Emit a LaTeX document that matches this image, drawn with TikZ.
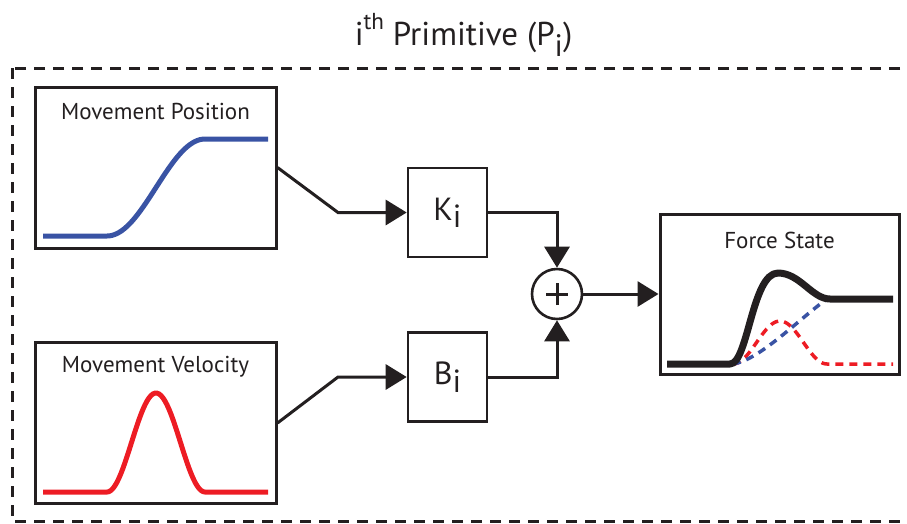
\documentclass[tikz,border=0pt]{standalone}
\usepackage{fontspec}
\setmainfont{PT Sans}
\usetikzlibrary{arrows.meta,positioning}
\definecolor{prblue}{HTML}{3953A4}
\definecolor{prred}{HTML}{ED1C24}
\definecolor{prink}{HTML}{231F20}
\newcommand{\lowtext}[2][0.23em]{\raisebox{-#1}{#2}}
\newcommand{\hightext}[1]{\raisebox{0.48em}{\scalebox{0.7}{#1}}}

\begin{document}
\begin{tikzpicture}[
  x=1pt, y=-1pt,
  panel/.style   = {rectangle, draw=prink, line width=3pt, minimum width=241pt,
                    minimum height=161pt, inner sep=0pt},
  gain/.style    = {rectangle, draw=prink, line width=2.6pt, minimum width=79pt,
                    minimum height=89pt, inner sep=0pt, text=prink,
                    font=\fontsize{32}{32}\selectfont},
  adder/.style   = {circle, draw=prink, line width=2.6pt, minimum size=50pt, inner sep=0pt},
  caption/.style = {font=\fontsize{23}{23}\selectfont, text=prink, inner sep=0pt},
  flow/.style    = {-{Triangle[length=21pt,width=25pt]}, draw=prink, line width=3pt},
  wire/.style    = {draw=prink, line width=3pt},
  trace/.style   = {line width=5pt},
  hint/.style    = {line width=3.5pt, dash pattern=on 8pt off 6pt},
  frame/.style   = {draw=prink, line width=3pt, dash pattern=on 11pt off 8pt},
]
\useasboundingbox (0,0) rectangle (907,523);
\clip (0,0) rectangle (907,523);

% outer frame and title
\draw[frame] (12,68) rectangle (915,521);
\node[font=\fontsize{33}{33}\selectfont, text=prink, inner sep=0pt, anchor=base] (title)
  at (463.5,45) {i\hightext{th} Primitive (P\lowtext[0.36em]{\scalebox{0.94}{i}})};

% input panels
\node[panel] (pos) at (155.5,167.5) {};
\node[caption] (poscap) at ([yshift=-26pt]pos.north) {Movement Position};
\node[panel] (vel) at (155.5,423) {};
\node[caption] (velcap) at ([yshift=-26pt]vel.north) {Movement Velocity};

\draw[trace, prblue] (43,236) -- (107,236)
  -- plot[domain=107:205, samples=40] (\x,{187.5+48.5*cos((\x-107)/98*180)}) -- (268,139);
\draw[trace, prred] (43,492) -- (107,492)
  -- plot[domain=107:205, samples=50] (\x,{492-49.5*(1-cos((\x-107)/98*360))}) -- (268,492);

% gains and sum
\node[gain] (ki) at (447.5,212.5) {K\lowtext{i}};
\node[gain] (bi) at (447.5,377) {B\lowtext{i}};
\node[adder] (sum) at (557,294) {};
\draw[wire] ([xshift=-11pt]sum.center) -- ([xshift=11pt]sum.center);
\draw[wire] ([yshift=-11pt]sum.center) -- ([yshift=11pt]sum.center);

% output panel
\node[panel, minimum width=239pt, minimum height=160pt] (force) at (779.5,294) {};
\node[caption] (forcecap) at ([yshift=-28pt]force.north) {Force State};

\draw[hint, prred] plot[domain=733:827, samples=40] (\x,{364-21.5*(1-cos((\x-733)/94*360))})
  -- (893,364);
\draw[hint, prblue] (733,364) .. controls (760,360) and (800,318) .. (827,299);
\draw[line width=7pt, prink, line join=round] (667,364) -- (730,364)
  .. controls (748,364) and (752,273) .. (778,273)
  .. controls (800,273) and (812,299) .. (830,299) -- (893,299);

% connectors
\coordinate (kjoin) at (338,212.5);
\coordinate (bjoin) at (338,377);
\draw[flow] (pos.east) -- (kjoin) -- (ki.west);
\draw[flow] (vel.east) -- (bjoin) -- (bi.west);
\draw[flow] (ki.east) -| (sum.north);
\draw[flow] (bi.east) -| (sum.south);
\draw[flow] (sum.east) -- (force.west);
\end{tikzpicture}
\end{document}
